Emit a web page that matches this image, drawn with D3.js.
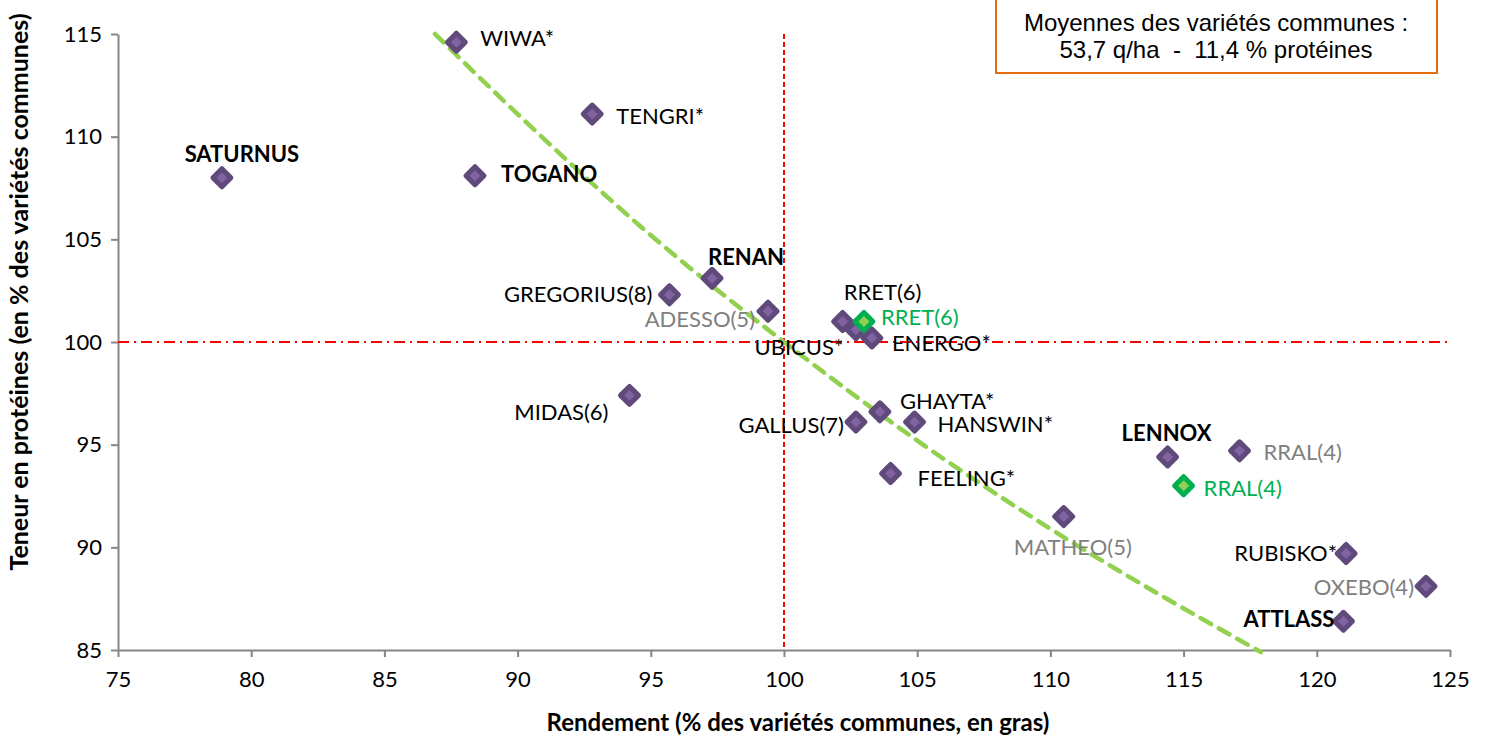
<!DOCTYPE html>
<html>
<head>
<meta charset="utf-8">
<script src="https://cdn.jsdelivr.net/npm/d3@7"></script>
<style>
  body { margin: 0; background: #fff; }
  svg { display: block; }
</style>
</head>
<body>
<svg id="chart" width="1486" height="740"></svg>
<script>
// varieties: yield (% of common) vs protein (% of common)
var names = ["WIWA*", "TENGRI*", "SATURNUS", "TOGANO", "RENAN", "GREGORIUS(8)", "ADESSO(5)",
  "RRET(6)", "UBICUS*", "ENERGO*", "MIDAS(6)", "GALLUS(7)", "GHAYTA*", "HANSWIN*", "FEELING*",
  "MATHEO(5)", "LENNOX", "RRAL(4)", "RUBISKO*", "OXEBO(4)", "ATTLASS", "RRET(6)", "RRAL(4)"];
var rendement = [87.7, 92.8, 78.9, 88.4, 97.3, 95.7, 99.4,
  102.2, 102.7, 103.3, 94.2, 102.7, 103.6, 104.9, 104.0,
  110.5, 114.4, 117.1, 121.1, 124.1, 121.0, 103.0, 115.0];
var proteines = [114.6, 111.1, 108.0, 108.1, 103.1, 102.3, 101.5,
  101.0, 100.6, 100.2, 97.4, 96.1, 96.6, 96.1, 93.6,
  91.5, 94.4, 94.7, 89.7, 88.1, 86.4, 101.0, 93.0];
// commune = bold, nouvelle = black, ancienne = grey, rr = green marker
var groups = ["nouvelle", "nouvelle", "commune", "commune", "commune", "nouvelle", "ancienne",
  "nouvelle", "nouvelle", "nouvelle", "nouvelle", "nouvelle", "nouvelle", "nouvelle", "nouvelle",
  "ancienne", "commune", "ancienne", "nouvelle", "ancienne", "commune", "rr", "rr"];

// trend curve
var trendX = [86.9, 90, 95, 100, 105, 110, 117.9];
var trendY = [115, 111.1, 105.2, 100, 95.2, 90.9, 84.9];

var xTicks = [75, 80, 85, 90, 95, 100, 105, 110, 115, 120, 125];
var yTicks = [85, 90, 95, 100, 105, 110, 115];
var boxLines = ["Moyennes des variétés communes :", "53,7 q/ha  -  11,4 % protéines"];

// label placement (px offset from the marker, anchor)
var labelPos = {
  0: [24, -4, "start"], 1: [24, 2, "start"], 2: [20, -23, "middle"], 3: [26, -1, "start"],
  4: [-4, -21, "start"], 5: [-17, 0, "end"], 6: [-13, 8, "end"], 7: [40, -29, "middle"],
  8: [-57, 18, "middle"], 9: [20, 5, "start"], 10: [-21, 17, "end"], 11: [-12, 3, "end"],
  12: [20, -11, "start"], 13: [23, 2, "start"], 14: [27, 5, "start"], 15: [-50, 31, "start"],
  16: [-46, -24, "start"], 17: [24, 1, "start"], 18: [-9, 0, "end"], 19: [-12, 1, "end"],
  20: [-9, -2, "end"], 21: [17, -4, "start"], 22: [20, 3, "start"]
};

var svg = d3.select("#chart");
var plotL = 118, plotR = 1450, plotT = 34, plotB = 650;
var font = "Lato, 'Open Sans', sans-serif";

var x = d3.scaleLinear().domain([75, 125]).range([plotL, plotR]);
var y = d3.scaleLinear().domain([85, 115]).range([plotB, plotT]);

// axes
var xAxis = svg.append("g").attr("transform", "translate(0," + plotB + ")")
  .call(d3.axisBottom(x).tickValues(xTicks).tickSize(7).tickPadding(14).tickSizeOuter(0));
var yAxis = svg.append("g").attr("transform", "translate(" + plotL + ",0)")
  .call(d3.axisLeft(y).tickValues(yTicks).tickSize(7).tickPadding(9).tickSizeOuter(0));
[xAxis, yAxis].forEach(function(a) {
  a.selectAll("path, line").attr("stroke", "#868686").attr("stroke-width", 2);
  a.selectAll("text").attr("fill", "#000").style("font-family", font).style("font-size", "22px");
});

// reference lines at 100
svg.append("line").attr("x1", x(100)).attr("x2", x(100)).attr("y1", plotT).attr("y2", plotB)
  .attr("stroke", "#ff0000").attr("stroke-width", 2).attr("stroke-dasharray", "5,3");
svg.append("line").attr("x1", plotL).attr("x2", plotR).attr("y1", y(100)).attr("y2", y(100))
  .attr("stroke", "#ff0000").attr("stroke-width", 2).attr("stroke-dasharray", "11,5,2,5");

// trend
var trend = trendX.map(function(v, i) { return [v, trendY[i]]; });
svg.append("path").datum(trend)
  .attr("d", d3.line().x(function(d) { return x(d[0]); }).y(function(d) { return y(d[1]); })
    .curve(d3.curveMonotoneX))
  .attr("fill", "none").attr("stroke", "#92d050").attr("stroke-width", 4.5)
  .attr("stroke-dasharray", "12,9").attr("stroke-linecap", "round");

// markers (green ones last so they sit on top)
var idx = d3.range(names.length).sort(function(a, b) {
  return (groups[a] == "rr") - (groups[b] == "rr");
});
var diamond = d3.symbol().type(d3.symbolDiamond2).size(205);
svg.append("g").selectAll("path").data(idx).join("path")
  .attr("transform", function(i) { return "translate(" + x(rendement[i]) + "," + y(proteines[i]) + ")"; })
  .attr("d", diamond)
  .attr("fill", function(i) { return groups[i] == "rr" ? "#92d050" : "#8064a2"; })
  .attr("stroke", function(i) { return groups[i] == "rr" ? "#00b050" : "#5f4a7b"; })
  .attr("stroke-width", 5).attr("stroke-linejoin", "round");

// labels
var colors = { commune: "#000", nouvelle: "#000", ancienne: "#808080", rr: "#00b050" };
svg.append("g").selectAll("text").data(d3.range(names.length)).join("text")
  .attr("x", function(i) { return x(rendement[i]) + labelPos[i][0]; })
  .attr("y", function(i) { return y(proteines[i]) + labelPos[i][1]; })
  .attr("dy", "0.35em")
  .attr("text-anchor", function(i) { return labelPos[i][2]; })
  .attr("fill", function(i) { return colors[groups[i]]; })
  .style("font-family", font).style("font-size", "22px")
  .style("font-weight", function(i) { return groups[i] == "commune" ? "bold" : "normal"; })
  .text(function(i) { return names[i]; });

// axis titles
svg.append("text").attr("x", 798).attr("y", 731).attr("text-anchor", "middle")
  .style("font-family", font).style("font-size", "24px").style("font-weight", "bold")
  .text("Rendement (% des variétés communes, en gras)");
svg.append("text").attr("transform", "translate(28,292) rotate(-90)").attr("text-anchor", "middle")
  .style("font-family", font).style("font-size", "25px").style("font-weight", "bold")
  .text("Teneur en protéines (en % des variétés communes)");

// info box
svg.append("rect").attr("x", 996).attr("y", -3).attr("width", 441).attr("height", 76)
  .attr("fill", "#fff").attr("stroke", "#e46c0a").attr("stroke-width", 2);
svg.append("g").selectAll("text").data(boxLines).join("text")
  .attr("x", 1216).attr("y", function(d, i) { return 31 + i * 27; })
  .attr("text-anchor", "middle")
  .style("white-space", "pre")
  .style("font-family", "'Liberation Sans', Arial, sans-serif").style("font-size", "24px")
  .text(function(d) { return d; });
</script>
</body>
</html>
